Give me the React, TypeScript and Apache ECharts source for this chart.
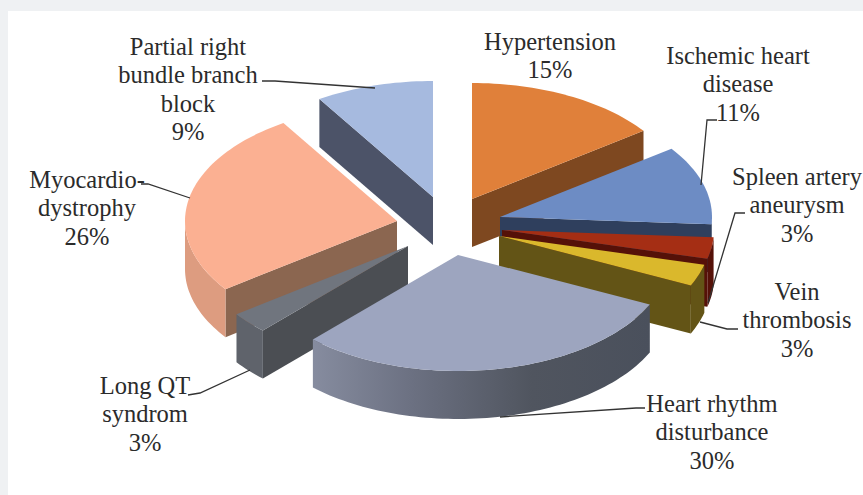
import React, { useEffect, useRef } from "react";
import * as echarts from "echarts";

const categories = ["Hypertension", "Ischemic heart disease", "Spleen artery aneurysm", "Vein thrombosis", "Heart rhythm disturbance", "Long QT syndrom", "Myocardio-dystrophy", "Partial right bundle branch block"];
const values = [15, 11, 3, 3, 30, 3, 26, 9];
const topColors = ["#e0803a", "#6d8cc4", "#a52e14", "#dab82c", "#9da5bf", "#70757e", "#fbb092", "#a6badf"];
const edgeColors = ["#7e4820", "#2f3f5d", "#551108", "#635416", "#4a505c", "#4b4e53", "#8b6650", "#4c5368"];
const rimColors = ["#7e4820", "#2f3f5d", "#551108", "#635416", "#4a505c", "#5f636b", "#dd9c80", "#4c5368"];
const apexes = [[472, 199], [500, 217], [502, 230], [499, 236], [458, 255], [408, 246], [397, 221], [433, 197]];
const paintOrder = [7, 0, 1, 2, 3, 6, 5, 4];
const RX = 212, RY = 116, DEPTH = 48;

const labelLines = [
  ["Hypertension", "15%"],
  ["Ischemic heart", "disease", "11%"],
  ["Spleen artery", "aneurysm", "3%"],
  ["Vein", "thrombosis", "3%"],
  ["Heart rhythm", "disturbance", "30%"],
  ["Long QT", "syndrom", "3%"],
  ["Myocardio-", "dystrophy", "26%"],
  ["Partial right", "bundle branch", "block", "9%"],
];
const labelAnchors = [[550, 41], [738, 55], [797, 176], [797, 291], [712, 403], [145, 385], [87, 179], [188, 46]];
const leaders = [
  [[717, 120], [707, 120], [701, 185]],
  [[745, 213], [735, 213], [708, 303]],
  [[738, 329], [727, 329], [700, 322]],
  [[645, 408], [636, 408], [500, 417]],
  [[188, 395], [200, 393], [250, 370]],
  [[141, 184], [148, 184], [190, 198]],
  [[262, 81], [275, 81], [375, 88]],
];

const LINE_HEIGHT = 28.5;
const total = values.reduce((a, b) => a + b, 0);

function point(ax: number[], deg: number, dy = 0) {
  const r = (deg * Math.PI) / 180;
  return [ax[0] + RX * Math.sin(r), ax[1] - RY * Math.cos(r) + dy];
}
function arc(ax: number[], a0: number, a1: number, dy = 0) {
  const n = Math.max(2, Math.ceil(Math.abs(a1 - a0) / 1.5));
  const out: number[][] = [];
  for (let i = 0; i <= n; i++) out.push(point(ax, a0 + ((a1 - a0) * i) / n, dy));
  return out;
}

function renderItem(params: any) {
  const i = params.dataIndex;
  const before = values.slice(0, i).reduce((a, b) => a + b, 0);
  const a0 = (before / total) * 360;
  const a1 = ((before + values[i]) / total) * 360;
  const ax = apexes[i];
  const z = paintOrder.indexOf(i) * 10;
  const children: any[] = [];
  if (a1 <= 180) {
    const e = point(ax, a1);
    children.push({ type: "polygon", z2: z, shape: { points: [ax, e, [e[0], e[1] + DEPTH], [ax[0], ax[1] + DEPTH]] }, style: { fill: edgeColors[i] } });
  }
  if (a0 >= 180) {
    const s = point(ax, a0);
    children.push({ type: "polygon", z2: z, shape: { points: [ax, s, [s[0], s[1] + DEPTH], [ax[0], ax[1] + DEPTH]] }, style: { fill: edgeColors[i] } });
  }
  const r0 = Math.max(a0, 90), r1 = Math.min(a1, 270);
  if (r1 > r0) {
    const up = arc(ax, r0, r1);
    const down = arc(ax, r1, r0, DEPTH);
    const fill = values[i] === 30
      ? { type: "linear", x: 1, y: 0, x2: 0, y2: 0, colorStops: [{ offset: 0, color: "#4a505c" }, { offset: 0.35, color: "#50555f" }, { offset: 0.7, color: "#6b7081" }, { offset: 1, color: "#868c9f" }] }
      : rimColors[i];
    children.push({ type: "polygon", z2: z + 1, shape: { points: up.concat(down) }, style: { fill } });
  }
  children.push({ type: "polygon", z2: z + 2, shape: { points: [ax].concat(arc(ax, a0, a1)) }, style: { fill: topColors[i] } });
  return { type: "group", children };
}

const labelGraphics: any[] = [];
labelLines.forEach((lines, i) => {
  lines.forEach((t, j) => {
    labelGraphics.push({
      type: "text",
      x: labelAnchors[i][0],
      y: labelAnchors[i][1] + j * LINE_HEIGHT,
      z: 5,
      style: { text: t, fill: "#2b2b2b", font: '24.5px "Liberation Serif"', textAlign: "center", textVerticalAlign: "middle" },
    });
  });
});
const leaderGraphics = leaders.map((pts) => ({
  type: "polyline",
  z: 4,
  shape: { points: pts },
  style: { stroke: "#333333", lineWidth: 1.3, fill: "none" },
}));

export default function App() {
  const ref = useRef<HTMLDivElement>(null);
  useEffect(() => {
    const chart = echarts.init(ref.current!, undefined, { renderer: "svg" });
    chart.setOption({
      animation: false,
      backgroundColor: "#eff1f3",
      graphic: [
        { type: "rect", z: -1, shape: { x: 8, y: 11, width: 855, height: 484 }, style: { fill: "#ffffff" } },
        ...leaderGraphics,
        ...labelGraphics,
      ],
      series: [
        {
          type: "custom",
          coordinateSystem: "none",
          name: "Diagnoses",
          silent: true,
          z: 2,
          data: values.map((v, i) => ({ name: categories[i], value: v })),
          renderItem,
        },
      ],
    });
    return () => chart.dispose();
  }, []);
  return <div ref={ref} style={{ position: "fixed", left: 0, top: 0, width: 863, height: 495 }} />;
}
